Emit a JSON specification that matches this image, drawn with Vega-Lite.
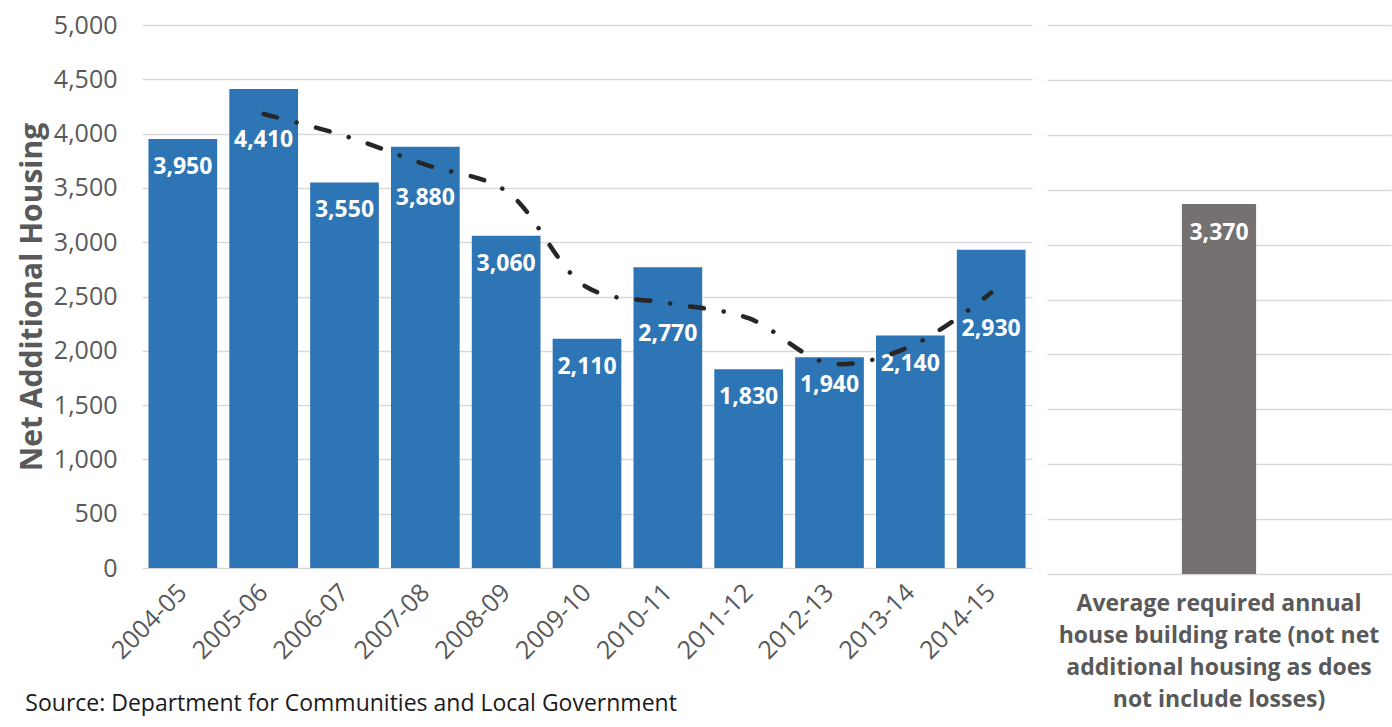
{
  "$schema": "https://vega.github.io/schema/vega-lite/v6.json",
  "background": "white",
  "padding": {"left": 17, "top": 13, "right": 2, "bottom": 0},
  "autosize": {"type": "pad"},
  "config": {
    "view": {"stroke": null},
    "font": "Open Sans",
    "axis": {
      "gridColor": "#D9D9D9",
      "gridWidth": 1.5,
      "domain": false,
      "ticks": false,
      "tickSize": 0,
      "labelColor": "#595959",
      "titleColor": "#595959"
    }
  },
  "datasets": {
    "housing": [
      {"year": "2004-05", "net": 3950, "trend": null},
      {"year": "2005-06", "net": 4410, "trend": 4180},
      {"year": "2006-07", "net": 3550, "trend": 3980},
      {"year": "2007-08", "net": 3880, "trend": 3715},
      {"year": "2008-09", "net": 3060, "trend": 3470},
      {"year": "2009-10", "net": 2110, "trend": 2585},
      {"year": "2010-11", "net": 2770, "trend": 2440},
      {"year": "2011-12", "net": 1830, "trend": 2300},
      {"year": "2012-13", "net": 1940, "trend": 1885},
      {"year": "2013-14", "net": 2140, "trend": 2040},
      {"year": "2014-15", "net": 2930, "trend": 2535}
    ],
    "required": [
      {"measure": "Average required annual house building rate (not net additional housing as does not include losses)", "value": 3370}
    ]
  },
  "bounds": "flush",
  "spacing": 15,
  "hconcat": [
    {
      "width": 890,
      "height": 543,
      "data": {"name": "housing"},
      "title": {
        "text": "Source: Department for Communities and Local Government",
        "orient": "bottom",
        "anchor": "start",
        "frame": "bounds",
        "offset": 29,
        "dx": 8,
        "fontSize": 23,
        "fontWeight": "normal",
        "color": "#1a1a1a",
        "font": "Open Sans"
      },
      "encoding": {
        "x": {
          "field": "year",
          "type": "nominal",
          "sort": null,
          "scale": {"paddingInner": 0.15, "paddingOuter": 0.08},
          "axis": {
            "title": null,
            "labelAngle": -45,
            "labelAlign": "right",
            "labelBaseline": "middle",
            "labelFontSize": 25,
            "labelPadding": 20
          }
        },
        "y": {
          "field": "net",
          "type": "quantitative",
          "title": "Net Additional Housing",
          "scale": {"domain": [0, 5000]},
          "axis": {
            "values": [0, 500, 1000, 1500, 2000, 2500, 3000, 3500, 4000, 4500, 5000],
            "format": ",d",
            "labelFontSize": 25,
            "labelPadding": 25,
            "titleFontSize": 30,
            "titleFontWeight": "bold",
            "titlePadding": 6
          }
        }
      },
      "layer": [
        {"mark": {"type": "bar", "color": "#2E75B6"}},
        {
          "transform": [{"filter": {"not": {"field": "year", "oneOf": ["2005-06", "2007-08", "2010-11", "2014-15"]}}}],
          "mark": {"type": "text", "color": "white", "fontWeight": "bold", "fontSize": 23, "baseline": "middle", "dy": 28},
          "encoding": {"text": {"field": "net", "type": "quantitative", "format": ",d"}}
        },
        {
          "transform": [{"filter": {"field": "year", "oneOf": ["2005-06", "2007-08"]}}],
          "mark": {"type": "text", "color": "white", "fontWeight": "bold", "fontSize": 23, "baseline": "middle", "dy": 51},
          "encoding": {"text": {"field": "net", "type": "quantitative", "format": ",d"}}
        },
        {
          "transform": [{"filter": {"field": "year", "oneOf": ["2010-11"]}}],
          "mark": {"type": "text", "color": "white", "fontWeight": "bold", "fontSize": 23, "baseline": "middle", "dy": 67},
          "encoding": {"text": {"field": "net", "type": "quantitative", "format": ",d"}}
        },
        {
          "transform": [{"filter": {"field": "year", "oneOf": ["2014-15"]}}],
          "mark": {"type": "text", "color": "white", "fontWeight": "bold", "fontSize": 23, "baseline": "middle", "dy": 79},
          "encoding": {"text": {"field": "net", "type": "quantitative", "format": ",d"}}
        },
        {
          "mark": {
            "type": "line",
            "interpolate": "catmull-rom",
            "color": "#262626",
            "strokeWidth": 4.5,
            "strokeCap": "round",
            "strokeDash": [14, 20, 0.1, 20]
          },
          "encoding": {
            "y": {"field": "trend", "type": "quantitative", "title": "Net Additional Housing"}
          }
        }
      ]
    },
    {
      "width": 344,
      "height": 549,
      "data": {"name": "required"},
      "encoding": {
        "x": {
          "field": "measure",
          "type": "nominal",
          "scale": {"paddingInner": 0.45, "paddingOuter": 1},
          "axis": {
            "title": null,
            "labelAngle": 0,
            "labelAlign": "center",
            "labelBaseline": "top",
            "labelExpr": "['Average required annual', 'house building rate (not net', 'additional housing as does', 'not include losses)']",
            "labelFontSize": 23,
            "labelFontWeight": "bold",
            "labelLineHeight": 32,
            "labelLimit": 500,
            "labelPadding": 18
          }
        },
        "y": {
          "field": "value",
          "type": "quantitative",
          "scale": {"domain": [0, 5000]},
          "axis": {
            "title": null,
            "labels": false,
            "values": [0, 500, 1000, 1500, 2000, 2500, 3000, 3500, 4000, 4500, 5000]
          }
        }
      },
      "layer": [
        {"mark": {"type": "bar", "color": "#767171"}},
        {
          "mark": {"type": "text", "color": "white", "fontWeight": "bold", "fontSize": 23, "baseline": "middle", "dy": 29},
          "encoding": {"text": {"field": "value", "type": "quantitative", "format": ",d"}}
        }
      ]
    }
  ]
}
